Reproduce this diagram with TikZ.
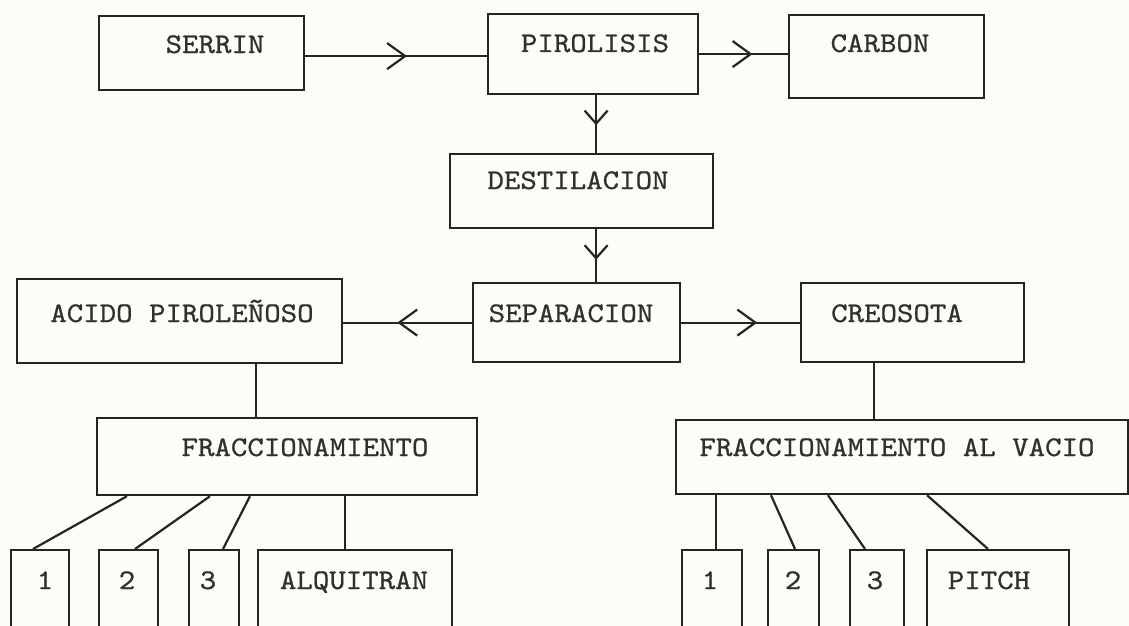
\documentclass[tikz,border=0pt]{standalone}
\usepackage{fontspec}
\usepackage{graphicx}
\usetikzlibrary{arrows.meta,decorations.markings}
\newfontfamily\twfont{lmmono10-regular.otf}[FakeBold=0.7]
\definecolor{paper}{RGB}{253,252,246}
\definecolor{ink}{RGB}{38,36,32}
\definecolor{tink}{RGB}{50,48,44}
\newcommand{\twtxt}[1]{\scalebox{1.1}[1]{#1}}
\tikzset{
  box/.style={draw=ink, line width=2.2pt, rectangle, inner sep=0pt, anchor=north west},
  txt/.style={text=tink, inner sep=0pt, anchor=base, font=\fontsize{28.5}{30}\twfont},
  conn/.style={draw=ink, line width=2.2pt},
  midarrow/.style={postaction={decorate}, decoration={markings,
     mark=at position #1 with {\arrow{Straight Barb[length=18pt,width=26pt,line width=2.2pt]}}}},
  vmidarrow/.style={postaction={decorate}, decoration={markings,
     mark=at position #1 with {\arrow{Straight Barb[length=13pt,width=23pt,line width=2.2pt]}}}}
}
\begin{document}
\begin{tikzpicture}[x=1pt,y=-1pt]
\fill[paper] (0,0) rectangle (1129,626);
\useasboundingbox (0,0) rectangle (1129,626);
\clip (0,0) rectangle (1129,626);
% boxes
\node[box, minimum width=205pt, minimum height=74pt] (serrin) at (98,15) {};
\node[box, minimum width=210pt, minimum height=80pt] (piro) at (487,13) {};
\node[box, minimum width=195pt, minimum height=83pt] (carbon) at (788,14) {};
\node[box, minimum width=263pt, minimum height=74pt] (dest) at (449,153) {};
\node[box, minimum width=325pt, minimum height=84pt] (acido) at (16,278) {};
\node[box, minimum width=207pt, minimum height=79pt] (sep) at (472,282) {};
\node[box, minimum width=223pt, minimum height=79pt] (creo) at (800,282) {};
\node[box, minimum width=380pt, minimum height=77pt] (frac) at (96,417) {};
\node[box, minimum width=452pt, minimum height=74pt] (fracv) at (675,419) {};
\node[box, minimum width=58pt, minimum height=95pt] (l1) at (10,549) {};
\node[box, minimum width=59pt, minimum height=95pt] (l2) at (98,549) {};
\node[box, minimum width=50pt, minimum height=95pt] (l3) at (188,549) {};
\node[box, minimum width=194pt, minimum height=95pt] (alq) at (257,549) {};
\node[box, minimum width=60pt, minimum height=95pt] (r1) at (681,549) {};
\node[box, minimum width=51pt, minimum height=95pt] (r2) at (767,549) {};
\node[box, minimum width=54pt, minimum height=95pt] (r3) at (849,549) {};
\node[box, minimum width=142pt, minimum height=95pt] (pitch) at (926,549) {};
% texts
\node[txt] (tserrin) at (215,53) {\twtxt{SERRIN}};
\node[txt] (tpiro) at (595,52) {\twtxt{PIROLISIS}};
\node[txt] (tcarbon) at (880,52) {\twtxt{CARBON}};
\node[txt] (tdest) at (578,189) {\twtxt{DESTILACION}};
\node[txt] (tacido) at (182,322) {\twtxt{ACIDO PIROLEÑOSO}};
\node[txt] (tsep) at (571,322) {\twtxt{SEPARACION}};
\node[txt] (tcreo) at (897,322) {\twtxt{CREOSOTA}};
\node[txt] (tfrac) at (305,456) {\twtxt{FRACCIONAMIENTO}};
\node[txt] (tfracv) at (897,456) {\twtxt{FRACCIONAMIENTO AL VACIO}};
\node[txt] (tl1) at (45,589) {\twtxt{1}};
\node[txt] (tl2) at (127,589) {\twtxt{2}};
\node[txt] (tl3) at (208,589) {\twtxt{3}};
\node[txt] (talq) at (354,589) {\twtxt{ALQUITRAN}};
\node[txt] (tr1) at (710,589) {\twtxt{1}};
\node[txt] (tr2) at (793,589) {\twtxt{2}};
\node[txt] (tr3) at (875,589) {\twtxt{3}};
\node[txt] (tpitch) at (989,589) {\twtxt{PITCH}};
% connectors with arrows
\coordinate (a1) at ([yshift=-3pt]serrin.east);
\draw[conn, midarrow=0.56] (a1) -- (a1 -| piro.west);
\draw[conn, midarrow=0.6] (piro.east) -- (piro.east -| carbon.west);
\coordinate (v1) at ([xshift=3pt]piro.south);
\draw[conn, vmidarrow=0.52] (v1) -- (v1 |- dest.north);
\draw[conn, vmidarrow=0.58] (v1 |- dest.south) -- (v1 |- sep.north);
\draw[conn, midarrow=0.58] (sep.west) -- (sep.west -| acido.east);
\draw[conn, midarrow=0.64] (sep.east) -- (sep.east -| creo.west);
% plain connectors
\coordinate (v2) at ([xshift=240pt]acido.south west);
\draw[conn] (v2) -- (v2 |- frac.north);
\coordinate (v3) at ([xshift=74pt]creo.south west);
\draw[conn] (v3) -- (v3 |- fracv.north);
\draw[conn] ([xshift=31pt]frac.south west) -- ([xshift=23pt]l1.north west);
\draw[conn] ([xshift=114pt]frac.south west) -- ([xshift=37pt]l2.north west);
\draw[conn] ([xshift=154pt]frac.south west) -- ([xshift=35pt]l3.north west);
\coordinate (v4) at ([xshift=249pt]frac.south west);
\draw[conn] (v4) -- (v4 |- alq.north);
\coordinate (v5) at ([xshift=41pt]fracv.south west);
\draw[conn] (v5) -- (v5 |- r1.north);
\draw[conn] ([xshift=96pt]fracv.south west) -- ([xshift=28pt]r2.north west);
\draw[conn] ([xshift=153pt]fracv.south west) -- ([xshift=16pt]r3.north west);
\draw[conn] ([xshift=252pt]fracv.south west) -- ([xshift=62pt]pitch.north west);
\end{tikzpicture}
\end{document}
